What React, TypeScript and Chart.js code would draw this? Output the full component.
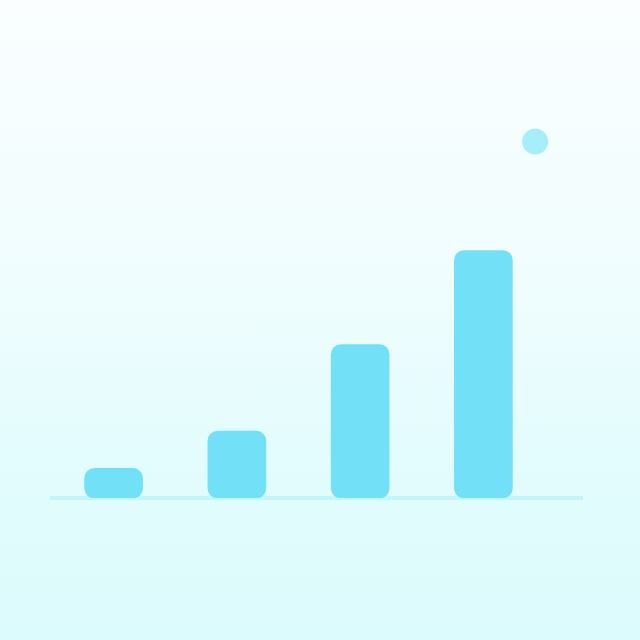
import { useEffect, useRef } from 'react';
import Chart from 'chart.js/auto';

// bar positions and heights
const barPositions = [1, 2, 3, 4];
const barValues = [12, 27, 62, 100];
// the single floating marker above the last bar
const markerPosition = [4.42];
const markerValue = [144];

const App = () => {
  const chartRef = useRef<HTMLCanvasElement>(null);

  useEffect(() => {
    let chart: Chart | undefined;
    if (chartRef.current) {
      const ctx = chartRef.current.getContext('2d');
      if (ctx) {
        chart = new Chart(ctx, {
          type: 'bar',
          data: {
            datasets: [
              {
                type: 'bar',
                label: 'Growth',
                data: barPositions.map((x, i) => ({ x, y: barValues[i] })),
                backgroundColor: '#72e0f6',
                borderRadius: 10,
                borderSkipped: false,
                barThickness: 58,
              },
              {
                type: 'scatter',
                label: 'Target',
                data: markerPosition.map((x, i) => ({ x, y: markerValue[i] })),
                backgroundColor: '#a6eef9',
                borderWidth: 0,
                pointRadius: 13,
              },
            ],
          },
          options: {
            animation: false,
            responsive: true,
            maintainAspectRatio: false,
            layout: { padding: { left: 52, right: 58, top: 102, bottom: 134 } },
            plugins: {
              legend: { display: false },
              tooltip: { enabled: false },
            },
            scales: {
              x: {
                type: 'linear',
                min: 0.5,
                max: 4.8,
                offset: false,
                grid: { display: false },
                ticks: { display: false },
                border: { display: true, color: '#c4f5f9', width: 4 },
              },
              y: {
                min: 0,
                max: 160,
                display: false,
              },
            },
          },
        });
      }
    }
    return () => {
      chart?.destroy();
    };
  }, []);

  return (
    <div
      style={{
        position: 'fixed',
        top: 0,
        left: 0,
        width: 640,
        height: 640,
        background: 'linear-gradient(180deg, #fafeff 0%, #f1fdfe 40%, #e2fcfd 75%, #dcfbfc 100%)',
      }}
    >
      <canvas ref={chartRef}></canvas>
    </div>
  );
};

export default App;
